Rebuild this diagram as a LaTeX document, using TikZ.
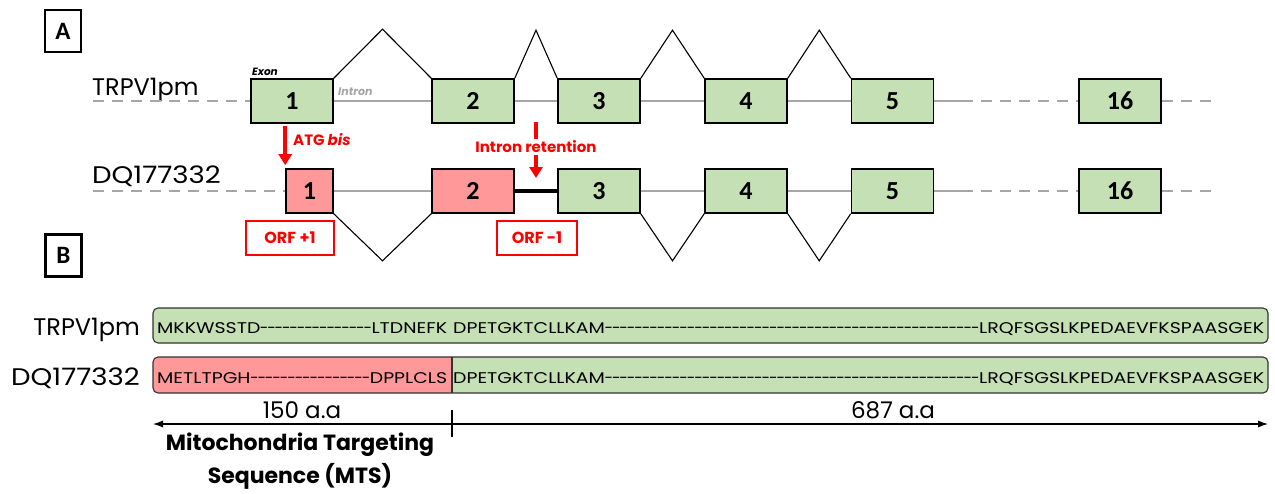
\documentclass[tikz,border=0pt]{standalone}
\usepackage{fontspec}
\setmainfont{Poppins}
\newfontfamily\calib{Carlito}
\newfontfamily\seqfont[FakeStretch=1.22]{Poppins}
\newfontfamily\plainP{Poppins}
\newfontfamily\dqfont[FakeStretch=1.15]{Poppins}
\usetikzlibrary{arrows.meta,calc}
\definecolor{exgreen}{HTML}{C5E0B4}
\definecolor{expink}{HTML}{FF9999}
\definecolor{lgray}{HTML}{A6A6A6}
\definecolor{ired}{HTML}{FF0000}
\newcommand{\myfs}[1]{\fontsize{#1}{#1}\selectfont}
\newcommand{\dashfill}{\xleaders\hbox to 7.4pt{\hss\plainP\myfs{15.5}-\hss}\hfill}
\begin{document}
\begin{tikzpicture}[x=1pt,y=-1pt,
  exon/.style={draw=black, line width=1.6pt, minimum width=82pt, minimum height=44pt, inner sep=0pt, font=\calib\bfseries\myfs{26}},
  gexon/.style={exon, fill=exgreen},
  pexon/.style={exon, fill=expink},
  intronline/.style={lgray, line width=1.8pt},
  dashline/.style={lgray, line width=1.8pt, dash pattern=on 11pt off 8pt},
  splice/.style={black, line width=1.1pt},
  redarrow/.style={ired, line width=3.5pt, -{Triangle[width=13pt,length=11pt]}},
  orfbox/.style={draw=ired, line width=1.2pt, text=ired, font=\bfseries\myfs{16}, minimum height=34pt, inner sep=0pt},
  rowlabel/.style={font=\myfs{24}, inner sep=0pt},
  panel/.style={draw, line width=2.8pt, minimum width=36pt, minimum height=42pt, inner sep=0pt, font=\calib\bfseries\myfs{25}},
  seqtext/.style={font=\seqfont\myfs{15.5}, inner sep=0pt, anchor=base west},
  scalelab/.style={font=\myfs{23}, inner sep=0pt, anchor=base},
  scalearrow/.style={line width=1.1pt, {Latex[length=10pt,width=7pt]}-{Latex[length=10pt,width=7pt]}}
]
\useasboundingbox (0,0) rectangle (1275,493);

% panel labels
\node[panel] (pA) at (63,31) {A};
\node[panel] (pB) at (63.5,255.5) {B};

% row labels (A)
\node[rowlabel, anchor=base west] (lt) at (92,95) {TRPV1pm};
\node[rowlabel, anchor=base west] (ld) at (92,183) {\dqfont DQ177332};

% TRPV1pm exons
\node[gexon] (t1) at (292,101) {1};
\node[gexon] (t2) at (473,101) {2};
\node[gexon] (t3) at (599,101) {3};
\node[gexon] (t4) at (746,101) {4};
\node[gexon] (t5) at (892.5,101) {5};
\node[gexon] (t16) at (1120,101) {16};

% DQ177332 exons
\node[pexon, minimum width=47pt] (d1) at (309.5,191) {1};
\node[pexon] (d2) at (473,191) {2};
\node[gexon] (d3) at (599,191) {3};
\node[gexon] (d4) at (746,191) {4};
\node[gexon] (d5) at (892.5,191) {5};
\node[gexon] (d16) at (1120,191) {16};

% free ends
\coordinate (tL) at (93,101);
\coordinate (tM) at (962,101);
\coordinate (tR) at (1215,101);
\coordinate (dL) at (93,191);
\coordinate (dM) at (962,191);
\coordinate (dR) at (1215,191);

% TRPV1pm lines
\draw[dashline] (tL) -- (t1.west);
\draw[intronline] (t1.east) -- (t2.west);
\draw[intronline] (t2.east) -- (t3.west);
\draw[intronline] (t3.east) -- (t4.west);
\draw[intronline] (t4.east) -- (t5.west);
\draw[intronline] (t5.east) -- (tM);
\draw[dashline] (tM) -- (t16.west);
\draw[dashline] (t16.east) -- (tR);

% DQ177332 lines
\draw[dashline] (dL) -- (d1.west);
\draw[intronline] (d1.east) -- (d2.west);
\draw[black, line width=3.4pt] (d2.east) -- (d3.west);
\draw[intronline] (d3.east) -- (d4.west);
\draw[intronline] (d4.east) -- (d5.west);
\draw[intronline] (d5.east) -- (dM);
\draw[dashline] (dM) -- (d16.west);
\draw[dashline] (d16.east) -- (dR);

% splice arcs (top)
\draw[splice] (t1.north east) -- ($(t1.north east)!.5!(t2.north west)+(0,-49)$) -- (t2.north west);
\draw[splice] (t2.north east) -- ($(t2.north east)!.5!(t3.north west)+(0,-48)$) -- (t3.north west);
\draw[splice] (t3.north east) -- ($(t3.north east)!.5!(t4.north west)+(0,-48)$) -- (t4.north west);
\draw[splice] (t4.north east) -- ($(t4.north east)!.5!(t5.north west)+(0,-48)$) -- (t5.north west);
% splice arcs (bottom)
\draw[splice] (d1.south east) -- ($(d1.south east)!.5!(d2.south west)+(0,47)$) -- (d2.south west);
\draw[splice] (d3.south east) -- ($(d3.south east)!.5!(d4.south west)+(0,47)$) -- (d4.south west);
\draw[splice] (d4.south east) -- ($(d4.south east)!.5!(d5.south west)+(0,47)$) -- (d5.south west);

% Exon / Intron labels
\node[font=\bfseries\itshape\myfs{10.5}, inner sep=0pt, anchor=base west] (exl) at (252,75) {Exon};
\node[font=\bfseries\itshape\myfs{11}, text=lgray, inner sep=0pt, anchor=base west] (inl) at (338,95) {Intron};

% ATG bis
\coordinate (atgS) at ($(d1.north west |- t1.south)+(0,2)$);
\coordinate (atgE) at ($(d1.north west)+(0,-3)$);
\draw[redarrow] (atgS) -- (atgE);
\node[font=\bfseries\myfs{15}, text=ired, inner sep=0pt, anchor=west] (atg) at (293,140) {ATG \textit{bis}};

% Intron retention
\coordinate (irS) at ($(d2.east)!.5!(d3.west) + (0,-69)$);
\coordinate (irE) at ($(d2.east)!.5!(d3.west) + (0,-13)$);
\draw[redarrow] (irS) -- (irE);
\node[font=\bfseries\myfs{15}, text=ired, fill=white, inner xsep=1pt, inner ysep=2pt] (irl) at ($(d2.east)!.5!(d3.west) + (0,-44)$) {Intron retention};

% ORF boxes
\node[orfbox, minimum width=88pt] (orf1) at (290,238) {ORF +1};
\node[orfbox, minimum width=80pt] (orf2) at (537,238) {ORF -1};

% Part B labels
\node[rowlabel, anchor=base east] (bt) at (140,335) {TRPV1pm};
\node[rowlabel, anchor=base east] (bd) at (140,385) {\dqfont DQ177332};

% protein bars
\node[draw=black!80, line width=1.1pt, fill=exgreen, rounded corners=5pt, minimum width=1115pt, minimum height=35pt, inner sep=0pt] (p1) at (710.5,325.5) {};
\draw[line width=1.1pt, draw=black!80, fill=exgreen, rounded corners=5pt] (452,357) -- (1268,357) -- (1268,393) -- (452,393);
\draw[line width=1.1pt, draw=black!80, fill=expink, rounded corners=5pt] (452,357) -- (153,357) -- (153,393) -- (452,393);
\draw[line width=1.1pt, draw=black!80] (452,357) -- (452,393);

% sequences
\node[seqtext] (s1) at (157,333) {\hbox to 290pt{MKKWSSTD\dashfill LTDNEFK}\hskip 6pt\hbox to 811pt{DPETGKTCLLKAM\dashfill LRQFSGSLKPEDAEVFKSPAASGEK}};
\node[seqtext] (s2) at (157,383) {\hbox to 290pt{METLTPGH\dashfill DPPLCLS}\hskip 6pt\hbox to 811pt{DPETGKTCLLKAM\dashfill LRQFSGSLKPEDAEVFKSPAASGEK}};

% scale arrow
\coordinate (aL) at (153,424);
\coordinate (aR) at (1268,424);
\coordinate (tkT) at (452,410);
\coordinate (tkB) at (452,437);
\draw[scalearrow] (aL) -- (aR);
\draw[line width=1.1pt] (tkT) -- (tkB);
\node[scalelab] (l150) at (302,418) {150 a.a};
\node[scalelab] (l687) at (893,418) {687 a.a};
\node[font=\bfseries\fontsize{22}{33}\selectfont, align=center, inner sep=0pt] (mts) at (300,461) {Mitochondria Targeting\\Sequence (MTS)};
\end{tikzpicture}
\end{document}
